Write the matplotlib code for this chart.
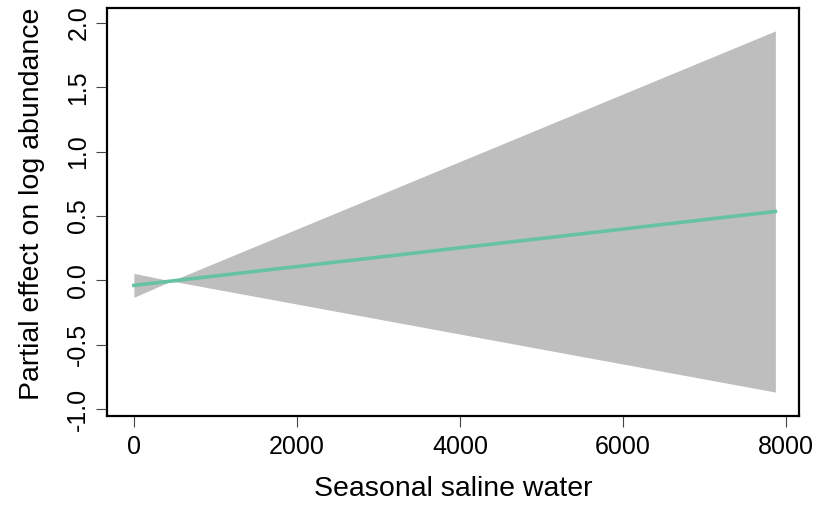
import matplotlib
matplotlib.use("Agg")
import matplotlib.pyplot as plt
import numpy as np

# Data
x_pts = [0, 460, 7870]
fit = [-0.039, -0.005, 0.535]
upper = [0.054, -0.005, 1.938]
lower = [-0.132, -0.005, -0.868]
x_ticks = [0, 2000, 4000, 6000, 8000]
y_ticks = [-1.0, -0.5, 0.0, 0.5, 1.0, 1.5, 2.0]
y_ticklabels = ["-1.0", "-0.5", "0.0", "0.5", "1.0", "1.5", "2.0"]

plt.rcParams['font.family'] = ['Liberation Sans', 'DejaVu Sans']

fig = plt.figure(figsize=(8.16, 5.08), dpi=100)
ax = fig.add_axes([107/816, 1 - 416/508, (799-107)/816, (416-8)/508])

ax.fill_between(x_pts, lower, upper, color="#bebebe", linewidth=0)
ax.plot([x_pts[0], x_pts[-1]], [fit[0], fit[-1]], color="#66c2a5", linewidth=2.6)

ax.set_xlim(-330, 8160)
ax.set_ylim(-1.054, 2.116)
ax.set_xticks(x_ticks)
ax.set_xticklabels([str(v) for v in x_ticks])
ax.set_yticks(y_ticks)
ax.set_yticklabels(y_ticklabels, rotation=90, va="center")

for s in ax.spines.values():
    s.set_linewidth(1.6)
ax.tick_params(axis="both", length=8, width=0.8, color="#444444", labelsize=18, pad=6)
ax.tick_params(axis="y", pad=4)

ax.set_xlabel("Seasonal saline water", fontsize=20.5, labelpad=12)
ax.set_ylabel("Partial effect on log abundance", fontsize=20.5)
ax.yaxis.set_label_coords(-0.09, 0.52)

fig.savefig("out.png", dpi=100)
